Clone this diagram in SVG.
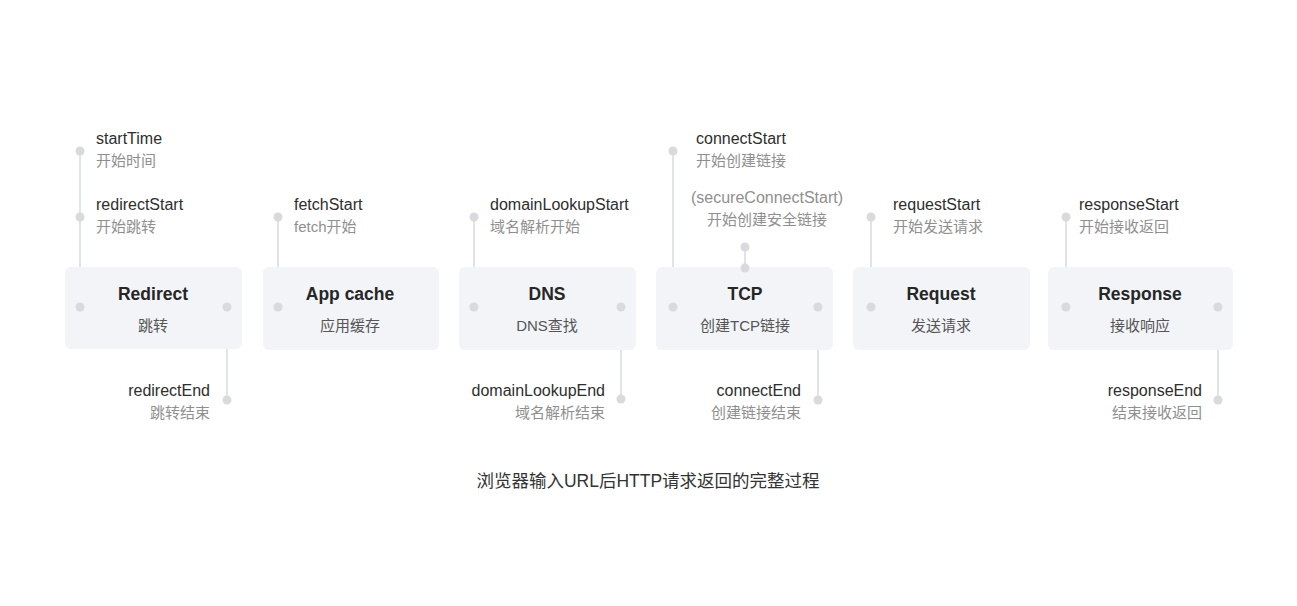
<svg xmlns="http://www.w3.org/2000/svg" width="1297" height="606" viewBox="0 0 1297 606">
<style>
.box{fill:#f2f4f7}
.ln{stroke:#e2e3e6;stroke-width:2;fill:none}
.dot{fill:#d9dadd}
text{font-family:"Liberation Sans","Noto Sans CJK SC",sans-serif}
.t{font-size:17.5px;font-weight:bold;fill:#262626;text-anchor:middle}
.s{font-size:15px;fill:#555;text-anchor:middle}
.k{font-size:16px;fill:#2e2e2e}
.c{font-size:15px;fill:#8f8f8f}
.cl{font-size:16px;fill:#8f8f8f}
.r{text-anchor:end}
.m{text-anchor:middle}
.cap{font-size:17.5px;fill:#333;text-anchor:middle}
</style>
<rect width="1297" height="606" fill="#fff"/>
<g id="connectors">
<line class="ln" x1="80" y1="151" x2="80" y2="307"/>
<line class="ln" x1="227" y1="307" x2="227" y2="400"/>
<line class="ln" x1="278" y1="217" x2="278" y2="307"/>
<line class="ln" x1="474" y1="217" x2="474" y2="307"/>
<line class="ln" x1="621" y1="307" x2="621" y2="399"/>
<line class="ln" x1="673" y1="151" x2="673" y2="307"/>
<line class="ln" x1="745" y1="247" x2="745" y2="268"/>
<line class="ln" x1="818" y1="307" x2="818" y2="400"/>
<line class="ln" x1="871" y1="217" x2="871" y2="307"/>
<line class="ln" x1="1066" y1="217" x2="1066" y2="307"/>
<line class="ln" x1="1218" y1="307" x2="1218" y2="400"/>
</g>
<g id="redirect">
<rect class="box" x="65" y="267" width="177" height="82" rx="6"/>
<text class="t" x="153" y="300">Redirect</text>
<text class="s" x="153" y="331">跳转</text>
<circle class="dot" cx="80" cy="151" r="4.5"/><circle class="dot" cx="80" cy="217" r="4.5"/><circle class="dot" cx="80" cy="307" r="4.5"/>
<circle class="dot" cx="227" cy="307" r="4.5"/><circle class="dot" cx="227" cy="400" r="4.5"/>
<text class="k" x="96" y="144">startTime</text>
<text class="c" x="96" y="166">开始时间</text>
<text class="k" x="96" y="210">redirectStart</text>
<text class="c" x="96" y="232">开始跳转</text>
<text class="k r" x="210" y="396">redirectEnd</text>
<text class="c r" x="210" y="418">跳转结束</text>
</g>
<g id="appcache">
<rect class="box" x="263" y="267" width="176" height="83" rx="6"/>
<text class="t" x="350" y="300">App cache</text>
<text class="s" x="350" y="331">应用缓存</text>
<circle class="dot" cx="278" cy="217" r="4.5"/><circle class="dot" cx="278" cy="307" r="4.5"/>
<text class="k" x="294" y="210">fetchStart</text>
<text class="c" x="294" y="232">fetch开始</text>
</g>
<g id="dns">
<rect class="box" x="459" y="267" width="177" height="83" rx="6"/>
<text class="t" x="547" y="300">DNS</text>
<text class="s" x="547" y="331">DNS查找</text>
<circle class="dot" cx="474" cy="217" r="4.5"/><circle class="dot" cx="474" cy="307" r="4.5"/>
<circle class="dot" cx="621" cy="307" r="4.5"/><circle class="dot" cx="621" cy="399" r="4.5"/>
<text class="k" x="490" y="210">domainLookupStart</text>
<text class="c" x="490" y="232">域名解析开始</text>
<text class="k r" x="605" y="396">domainLookupEnd</text>
<text class="c r" x="605" y="418">域名解析结束</text>
</g>
<g id="tcp">
<rect class="box" x="656" y="267" width="177" height="83" rx="6"/>
<text class="t" x="745" y="300">TCP</text>
<text class="s" x="745" y="331">创建TCP链接</text>
<circle class="dot" cx="673" cy="151" r="4.5"/><circle class="dot" cx="673" cy="307" r="4.5"/>
<circle class="dot" cx="745" cy="247" r="4.5"/><circle class="dot" cx="745" cy="268" r="4.5"/>
<circle class="dot" cx="818" cy="307" r="4.5"/><circle class="dot" cx="818" cy="400" r="4.5"/>
<text class="k" x="696" y="144">connectStart</text>
<text class="c" x="696" y="166">开始创建链接</text>
<text class="cl m" x="767" y="203">(secureConnectStart)</text>
<text class="c m" x="767" y="225">开始创建安全链接</text>
<text class="k r" x="801" y="396">connectEnd</text>
<text class="c r" x="801" y="418">创建链接结束</text>
</g>
<g id="request">
<rect class="box" x="853" y="267" width="177" height="83" rx="6"/>
<text class="t" x="941" y="300">Request</text>
<text class="s" x="941" y="331">发送请求</text>
<circle class="dot" cx="871" cy="217" r="4.5"/><circle class="dot" cx="871" cy="307" r="4.5"/>
<text class="k" x="893" y="210">requestStart</text>
<text class="c" x="893" y="232">开始发送请求</text>
</g>
<g id="response">
<rect class="box" x="1048" y="267" width="185" height="83" rx="6"/>
<text class="t" x="1140" y="300">Response</text>
<text class="s" x="1140" y="331">接收响应</text>
<circle class="dot" cx="1066" cy="217" r="4.5"/><circle class="dot" cx="1066" cy="307" r="4.5"/>
<circle class="dot" cx="1218" cy="307" r="4.5"/><circle class="dot" cx="1218" cy="400" r="4.5"/>
<text class="k" x="1079" y="210">responseStart</text>
<text class="c" x="1079" y="232">开始接收返回</text>
<text class="k r" x="1202" y="396">responseEnd</text>
<text class="c r" x="1202" y="418">结束接收返回</text>
</g>
<g id="caption">
<text class="cap" x="648" y="487">浏览器输入URL后HTTP请求返回的完整过程</text>
</g>
</svg>
